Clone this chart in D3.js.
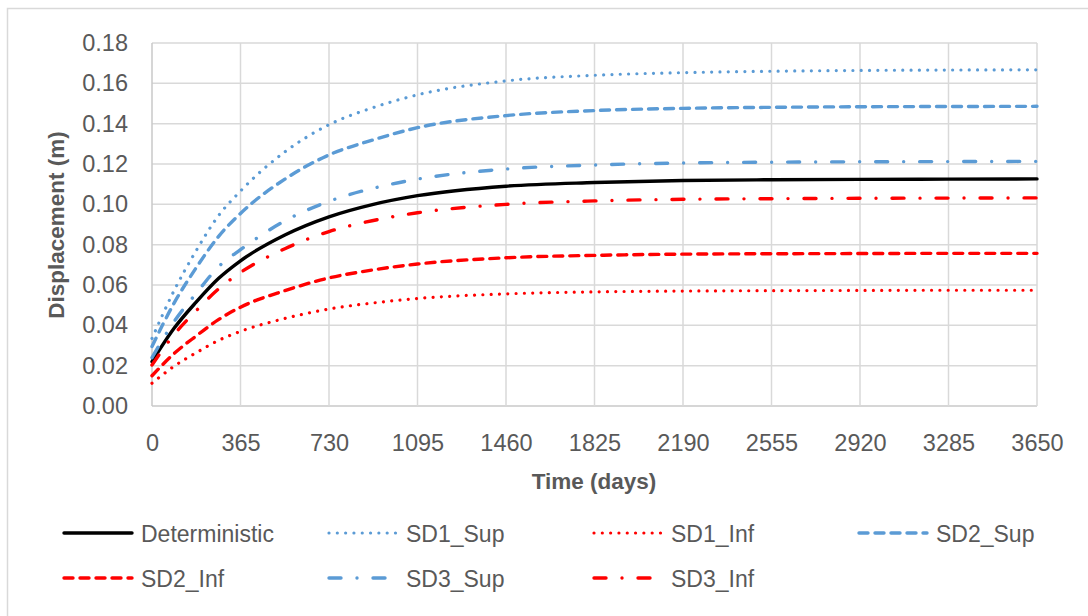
<!DOCTYPE html>
<html lang="en">
	<head>
		<meta charset="utf-8">
		<title>Displacement vs time</title>
		<script type="text/javascript" src="https://d3js.org/d3.v7.min.js"></script>
		<style type="text/css">
			body { margin: 0; background: #fff; }
			text { font-family: "Liberation Sans", Arial, sans-serif; fill: #595959; }
		</style>
	</head>
	<body>
		<script type="text/javascript">
			//Time axis samples (days)
			var days = [0, 91, 182, 274, 365, 548, 730, 913, 1095, 1460, 1825, 2190, 2555, 2920, 3285, 3650];

			//Displacement (m)
			var deterministic = [0.0220, 0.0385, 0.0515, 0.0632, 0.0720, 0.0848, 0.0938, 0.1000, 0.1043, 0.1090, 0.1108, 0.1118, 0.1122, 0.1124, 0.1125, 0.1126];
			var sd1Sup = [0.0335, 0.0572, 0.0770, 0.0943, 0.1066, 0.1260, 0.1395, 0.1480, 0.1543, 0.1612, 0.1640, 0.1653, 0.1660, 0.1664, 0.1666, 0.1667];
			var sd1Inf = [0.0113, 0.0197, 0.0264, 0.0325, 0.0370, 0.0434, 0.0481, 0.0511, 0.0533, 0.0556, 0.0566, 0.0570, 0.0572, 0.0573, 0.0574, 0.0574];
			var sd2Sup = [0.0295, 0.0510, 0.0685, 0.0840, 0.0955, 0.1125, 0.1245, 0.1320, 0.1380, 0.1440, 0.1465, 0.1476, 0.1481, 0.1484, 0.1485, 0.1486];
			var sd2Inf = [0.0150, 0.0260, 0.0347, 0.0428, 0.0490, 0.0572, 0.0635, 0.0675, 0.0704, 0.0735, 0.0747, 0.0753, 0.0755, 0.0756, 0.0757, 0.0757];
			var sd3Sup = [0.0240, 0.0418, 0.0558, 0.0690, 0.0775, 0.0918, 0.1015, 0.1080, 0.1125, 0.1175, 0.1195, 0.1205, 0.1209, 0.1211, 0.1212, 0.1213];
			var sd3Inf = [0.0203, 0.0354, 0.0472, 0.0580, 0.0662, 0.0780, 0.0865, 0.0920, 0.0958, 0.1000, 0.1017, 0.1025, 0.1028, 0.1030, 0.1031, 0.1032];

			var seriesNames = ["Deterministic", "SD1_Sup", "SD1_Inf", "SD2_Sup", "SD2_Inf", "SD3_Sup", "SD3_Inf"];
			var xTicks = [0, 365, 730, 1095, 1460, 1825, 2190, 2555, 2920, 3285, 3650];
			var yTicks = [0, 0.02, 0.04, 0.06, 0.08, 0.10, 0.12, 0.14, 0.16, 0.18];

			var blue = "#5b9bd5", red = "#ff0000";
			var dot = "0.01 8.3", dash = "9 7", dashDot = "12 16 0.01 16";
			var styles = [
				{ values: deterministic, color: "#000", dash: null, width: 3.4 },
				{ values: sd1Sup, color: blue, dash: dot, width: 3.2 },
				{ values: sd1Inf, color: red, dash: dot, width: 3.2 },
				{ values: sd2Sup, color: blue, dash: dash, width: 3.4 },
				{ values: sd2Inf, color: red, dash: dash, width: 3.4 },
				{ values: sd3Sup, color: blue, dash: dashDot, width: 3.4 },
				{ values: sd3Inf, color: red, dash: dashDot, width: 3.4 }
			];

			//Width and height
			var w = 1088;
			var h = 616;

			var svg = d3.select("body")
						.append("svg")
						.attr("width", w)
						.attr("height", h);

			//chart border
			svg.append("rect")
				.attr("x", 7.5)
				.attr("y", 8.5)
				.attr("width", 1200)
				.attr("height", 800)
				.attr("fill", "none")
				.attr("stroke", "#d9d9d9")
				.attr("stroke-width", 1.5);

			var x = d3.scaleLinear().domain([0, 3650]).range([152, 1037]);
			var y = d3.scaleLinear().domain([0, 0.18]).range([406, 43]);

			//gridlines
			svg.append("g")
				.selectAll("line.h")
				.data(yTicks)
				.enter()
				.append("line")
				.attr("x1", x(0)).attr("x2", x(3650))
				.attr("y1", function(d) { return y(d); })
				.attr("y2", function(d) { return y(d); })
				.attr("stroke", function(d) { return d === 0 ? "#c9c9c9" : "#d9d9d9"; })
				.attr("stroke-width", 1.5);

			svg.append("g")
				.selectAll("line.v")
				.data(xTicks)
				.enter()
				.append("line")
				.attr("y1", y(0)).attr("y2", y(0.18))
				.attr("x1", function(d) { return x(d); })
				.attr("x2", function(d) { return x(d); })
				.attr("stroke", function(d) { return d === 0 ? "#c9c9c9" : "#d9d9d9"; })
				.attr("stroke-width", 1.5);

			//axes (labels only)
			var yAxis = d3.axisLeft(y).tickValues(yTicks).tickFormat(d3.format(".2f")).tickSize(0).tickPadding(24);
			var xAxis = d3.axisBottom(x).tickValues(xTicks).tickFormat(d3.format("d")).tickSize(0).tickPadding(28);

			svg.append("g")
				.attr("transform", "translate(" + x(0) + ",0)")
				.call(yAxis)
				.call(function(g) { g.select(".domain").remove(); })
				.selectAll("text")
				.style("font-size", "23.5px")
				.attr("fill", "#595959");

			svg.append("g")
				.attr("transform", "translate(0," + y(0) + ")")
				.call(xAxis)
				.call(function(g) { g.select(".domain").remove(); })
				.selectAll("text")
				.style("font-size", "23.5px")
				.attr("fill", "#595959");

			//axis titles
			svg.append("text")
				.attr("x", 594)
				.attr("y", 489)
				.attr("text-anchor", "middle")
				.style("font-size", "22.5px")
				.style("font-weight", "bold")
				.text("Time (days)");

			svg.append("text")
				.attr("transform", "translate(64,225) rotate(-90)")
				.attr("text-anchor", "middle")
				.style("font-size", "22.5px")
				.style("font-weight", "bold")
				.text("Displacement (m)");

			//lines
			var line = d3.line()
						.x(function(d, i) { return x(days[i]); })
						.y(function(d) { return y(d); })
						.curve(d3.curveMonotoneX);

			svg.append("g")
				.selectAll("path")
				.data(styles)
				.enter()
				.append("path")
				.attr("d", function(d) { return line(d.values); })
				.attr("fill", "none")
				.attr("stroke", function(d) { return d.color; })
				.attr("stroke-width", function(d) { return d.width; })
				.attr("stroke-dasharray", function(d) { return d.dash; })
				.attr("stroke-linecap", "round")
				.attr("stroke-linejoin", "round");

			//legend
			var legend = svg.append("g")
							.selectAll("g")
							.data(styles)
							.enter()
							.append("g")
							.attr("transform", function(d, i) {
								return "translate(" + (63 + (i % 4) * 265) + "," + (533 + Math.floor(i / 4) * 45) + ")";
							});

			legend.append("line")
				.attr("x1", 1).attr("x2", 69)
				.attr("y1", 0).attr("y2", 0)
				.attr("stroke", function(d) { return d.color; })
				.attr("stroke-width", function(d) { return d.width; })
				.attr("stroke-dasharray", function(d) { return d.dash; })
				.attr("stroke-linecap", "round");

			legend.append("text")
				.attr("x", 78)
				.attr("y", 8.5)
				.style("font-size", "23px")
				.text(function(d, i) { return seriesNames[i]; });
		</script>
	</body>
</html>
